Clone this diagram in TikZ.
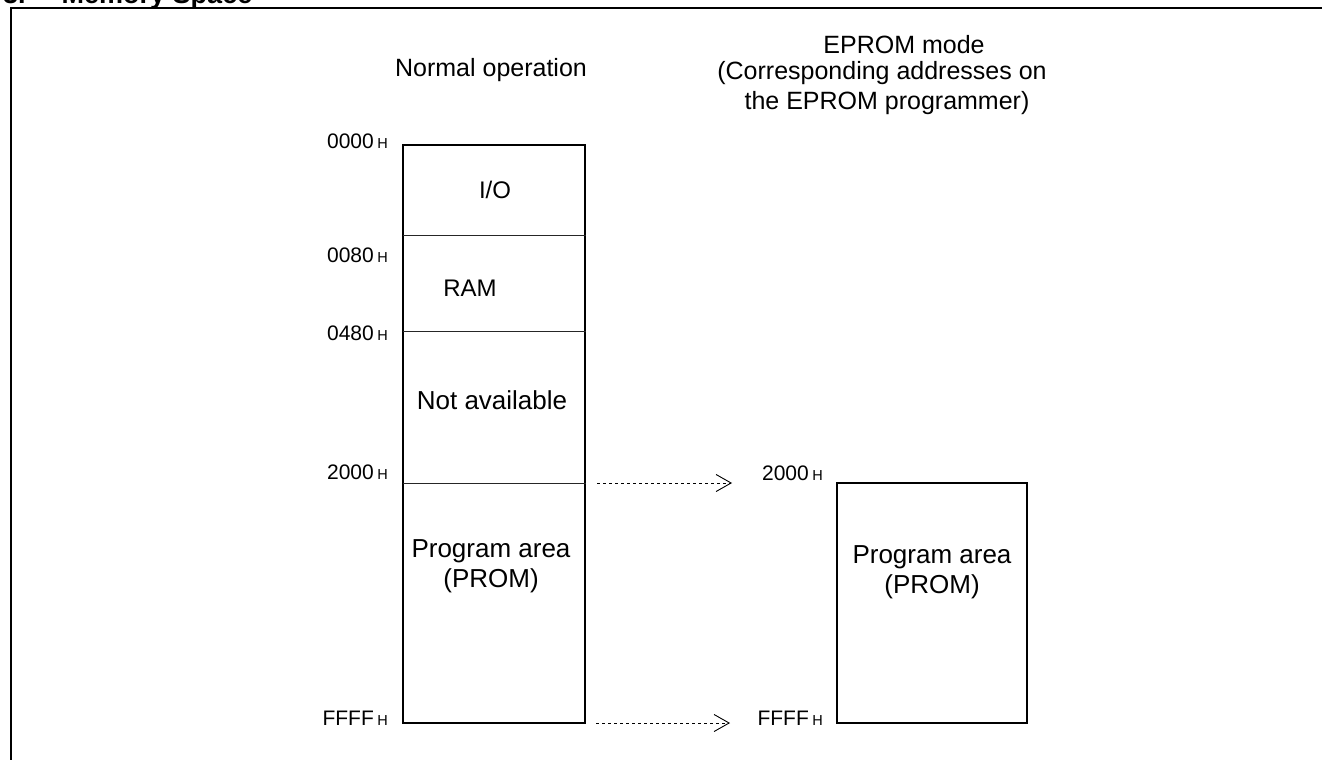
\documentclass[tikz,border=0pt]{standalone}
\usepackage{fontspec}
\setmainfont{Liberation Sans}
\usetikzlibrary{arrows.meta}
\begin{document}
\begin{tikzpicture}[x=1pt,y=-1pt,
  mem/.style={draw,line width=2pt,inner sep=0pt},
  divline/.style={line width=1pt,black!85},
  lbl/.style={font=\fontsize{26}{30}\selectfont,align=center,inner sep=0pt,anchor=base},
  head/.style={font=\fontsize{25}{28}\selectfont,inner sep=0pt,anchor=base},
  addr/.style={anchor=base east,inner sep=0pt,font=\fontsize{21}{24}\selectfont},
  mapto/.style={line width=0.8pt,dash pattern=on 2.5pt off 3.5pt,
    -{Straight Barb[length=15pt,width=17pt,line width=0.9pt]}},
  frame/.style={line width=2.2pt}
]
\useasboundingbox (0,0) rectangle (1322,760);
% title (cut off by the page edge, as in the reference)
\node[anchor=base west,inner sep=0pt,font=\bfseries\fontsize{27}{30}\selectfont] (title) at (3,4) {3.\hspace{36pt}Memory Space};
% outer frame
\draw[frame] (11,780) -- (11,8) -- (1340,8);

% headings
\node[head] (normal) at (491,77) {Normal operation};
\node[head] (ep1) at (904,53) {EPROM mode};
\node[head] (ep2) at (882,80) {(Corresponding addresses on};
\node[head] (ep3) at (887,109) {the EPROM programmer)};

% left memory map
\node[mem,minimum width=182pt,minimum height=578pt] (lbox) at (494,434) {};
\coordinate (d1) at (403,235);
\coordinate (d2) at (403,331);
\coordinate (d3) at (403,483);
\draw[divline] (d1) -- (d1 -| lbox.east);
\draw[divline] (d2) -- (d2 -| lbox.east);
\draw[divline] (d3) -- (d3 -| lbox.east);

\node[lbl,font=\fontsize{24}{28}\selectfont] (io) at (495,198) {I/O};
\node[lbl,font=\fontsize{24}{28}\selectfont] (ram) at (470,296) {RAM};
\node[lbl] (na) at (492,409) {Not available};
\node[lbl] (pa) at (491,587) {Program area\\(PROM)};

\newcommand{\hh}{\hspace{3.5pt}{\fontsize{14.5}{16}\selectfont H}}
\node[addr] (a0000) at (388,148) {0000\hh};
\node[addr] (a0080) at (388,262) {0080\hh};
\node[addr] (a0480) at (388,340) {0480\hh};
\node[addr] (a2000) at (388,479) {2000\hh};
\node[addr] (affff) at (388,725) {FFFF\hh};

% right memory map
\node[mem,minimum width=190pt,minimum height=240pt] (rbox) at (932,603) {};
\node[lbl] (pb) at (932,593) {Program area\\(PROM)};
\node[addr] (b2000) at (823,480) {2000\hh};
\node[addr] (bffff) at (823,725) {FFFF\hh};

% mapping arrows
\coordinate (s1) at (597,483);
\coordinate (e1) at (732,483);
\coordinate (s2) at (596,723);
\coordinate (e2) at (730,723);
\draw[mapto] (s1) -- (e1);
\draw[mapto] (s2) -- (e2);
\end{tikzpicture}
\end{document}
